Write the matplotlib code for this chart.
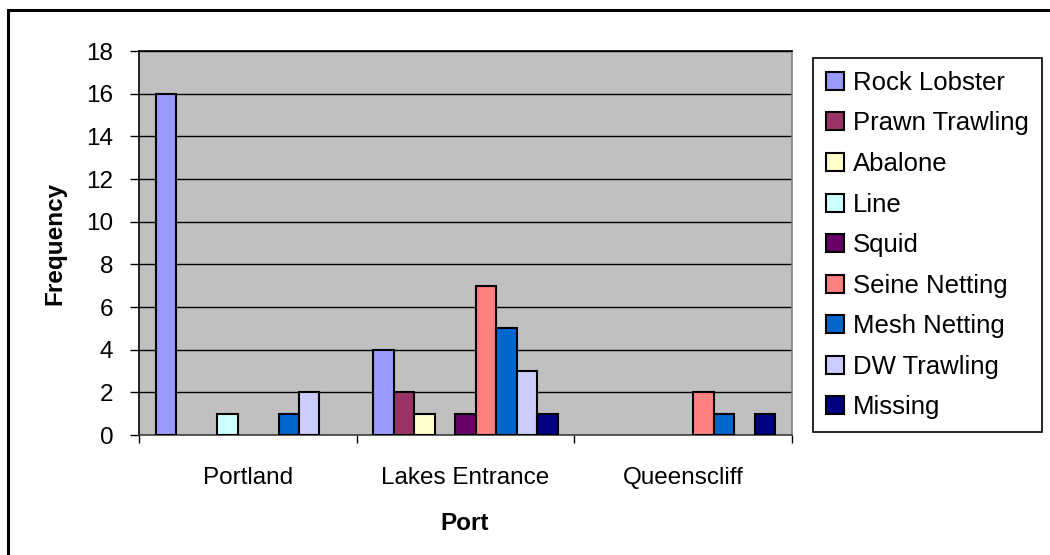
import matplotlib
matplotlib.use("Agg")
import matplotlib.pyplot as plt
import numpy as np
from matplotlib.patches import Rectangle

plt.rcParams['font.family'] = ['Liberation Sans', 'DejaVu Sans']

# survey counts per port and fishery
ports = ['Portland', 'Lakes Entrance', 'Queenscliff']
fisheries = ['Rock Lobster', 'Prawn Trawling', 'Abalone', 'Line', 'Squid',
             'Seine Netting', 'Mesh Netting', 'DW Trawling', 'Missing']
rock_lobster = [16, 4, 0]
prawn_trawling = [0, 2, 0]
abalone = [0, 1, 0]
line = [1, 0, 0]
squid = [0, 1, 0]
seine_netting = [0, 7, 2]
mesh_netting = [1, 5, 1]
dw_trawling = [2, 3, 0]
missing = [0, 1, 1]

series = [rock_lobster, prawn_trawling, abalone, line, squid,
          seine_netting, mesh_netting, dw_trawling, missing]
colors = ['#9999FF', '#993366', '#FFFFCC', '#CCFFFF', '#660066',
          '#FF8080', '#0066CC', '#CCCCFF', '#000080']

W, H = 1050, 555
fig = plt.figure(figsize=(W / 100, H / 100), dpi=100)
ax = fig.add_axes([139 / W, 1 - 435 / H, (792 - 139) / W, (435 - 51) / H])
ax.set_facecolor('#C0C0C0')

x = np.arange(len(ports)) + 0.5
w = 0.094
for i, (vals, c) in enumerate(zip(series, colors)):
    vals = np.array(vals)
    # empty bars get no outline
    lw = np.where(vals > 0, 1.5, 0.0)
    ax.bar(x + (i - 4) * w, vals, width=w, color=c, edgecolor='black',
           linewidth=lw, label=fisheries[i], zorder=3)

ax.set_xlim(0, 3)
ax.set_ylim(0, 18)
ax.set_yticks(np.arange(0, 19, 2))
ax.yaxis.grid(True, color='black', linewidth=1.0, zorder=1)
ax.set_axisbelow(True)

ax.set_xticks(x)
ax.set_xticklabels(ports)
ax.set_xticks(np.arange(0, 4), minor=True)
ax.tick_params(axis='x', which='major', length=0, pad=23, labelsize=17.5)
ax.tick_params(axis='x', which='minor', length=6, width=1, color='black')
ax.tick_params(axis='y', length=6.5, width=1, pad=12, labelsize=17.5)

ax.spines['left'].set_color('black')
ax.spines['top'].set_color('black')
ax.spines['bottom'].set_color('#404040')
ax.spines['right'].set_color('#808080')
for s in ax.spines.values():
    s.set_linewidth(1.2)

fig.text(55 / W, 1 - 243 / H, 'Frequency', rotation=90, ha='center',
         va='center', fontsize=17.5, fontweight='bold')
fig.text(465 / W, 1 - 524 / H, 'Port', ha='center', va='center',
         fontsize=17.5, fontweight='bold')

leg = ax.legend(loc='upper left', bbox_to_anchor=(813 / W, 1 - 58 / H),
                bbox_transform=fig.transFigure, borderaxespad=0,
                fontsize=18.5, frameon=True, fancybox=False,
                edgecolor='black', framealpha=1, handlelength=0.7,
                handleheight=0.7, handletextpad=0.35, labelspacing=0.645,
                borderpad=0.5)
leg.get_frame().set_linewidth(1.2)
for h in leg.legend_handles:
    h.set_linewidth(1.5)

# chart area frame
fig.patches.append(Rectangle((8 / W, -0.1), 1.2, 1.1 - 10 / H,
                             transform=fig.transFigure, fill=False,
                             edgecolor='black', linewidth=2.2))

fig.savefig('out.png', dpi=100)
